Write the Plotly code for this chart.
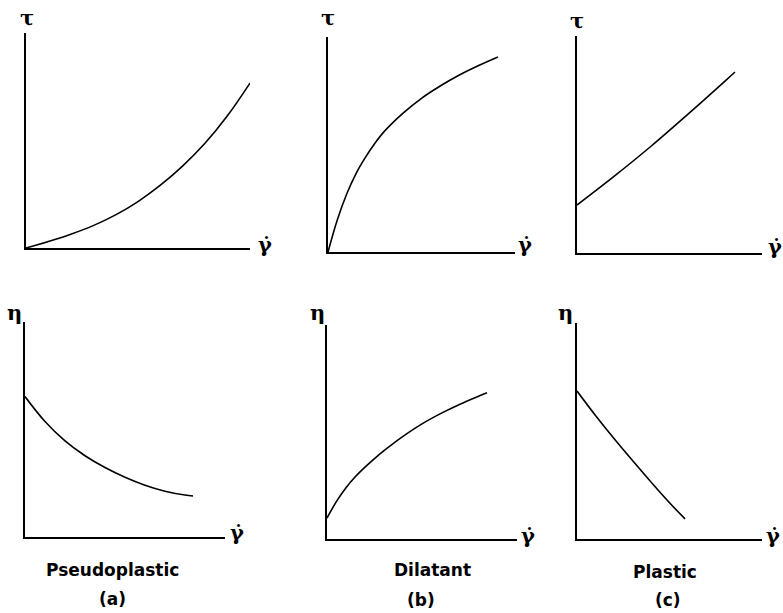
import plotly.graph_objects as go

W, H = 783, 613

# ---- data (arbitrary units, axes span 0..10) ----
tau_a_x = [0, 1, 2, 3, 4, 5, 6, 7, 8, 9, 10]
tau_a_y = [0, 0.30, 0.64, 1.04, 1.54, 2.16, 2.92, 3.82, 4.88, 6.16, 7.67]
tau_b_x = [0, 0.5, 1, 1.5, 2, 2.5, 3, 4, 5, 6, 7, 8, 9.09]
tau_b_y = [0, 1.50, 2.70, 3.65, 4.40, 5.05, 5.60, 6.45, 7.15, 7.72, 8.22, 8.65, 9.07]
tau_c_x = [0, 2, 4, 6, 8, 8.54]
tau_c_y = [2.21, 3.53, 4.92, 6.40, 7.92, 8.34]
eta_a_x = [0, 1, 2, 3, 4, 5, 6, 7, 8, 8.4]
eta_a_y = [6.53, 5.37, 4.47, 3.78, 3.23, 2.78, 2.41, 2.13, 1.95, 1.91]
eta_b_x = [0, 0.5, 1, 1.5, 2, 2.5, 3, 4, 5, 6, 7, 8, 8.42]
eta_b_y = [0.98, 1.76, 2.40, 2.92, 3.36, 3.76, 4.13, 4.80, 5.38, 5.87, 6.30, 6.68, 6.83]
eta_c_x = [0, 1, 2, 3, 4, 5, 5.84]
eta_c_y = [6.85, 5.72, 4.65, 3.63, 2.64, 1.68, 0.93]

fluid_names = ["Pseudoplastic", "Dilatant", "Plastic"]
panel_tags = ["(a)", "(b)", "(c)"]
top_label = "τ"
bottom_label = "η"
x_label = "γ̇"

# ---- layout geometry (pixels): x0, x1, y_bottom, y_top ----
geom = [
    (26, 250, 248, 33),
    (328, 515, 252, 37),
    (577, 762, 253, 36),
    (25, 225, 537, 322),
    (327, 517, 539, 325),
    (577, 762, 539, 323),
]
series = [
    (tau_a_x, tau_a_y), (tau_b_x, tau_b_y), (tau_c_x, tau_c_y),
    (eta_a_x, eta_a_y), (eta_b_x, eta_b_y), (eta_c_x, eta_c_y),
]
ylab_pos = [(27, 18), (328, 18), (577, 20), (15, 312), (317, 313), (565, 313)]
xlab_pos = [(265, 244), (525, 244), (775, 246), (237, 532), (528, 535), (773, 535)]
name_pos = [(113, 570), (432, 570), (665, 572)]
tag_pos = [(113, 599), (421, 600), (668, 600)]

def px(x):
    return x / W

def py(y):
    return 1 - y / H

GREEK = "DejaVu Serif"
fig = go.Figure()
layout = {}
annotations = []
for i, ((x0, x1, yb, yt), (sx, sy)) in enumerate(zip(geom, series)):
    n = i + 1
    xa = "x" if n == 1 else f"x{n}"
    ya = "y" if n == 1 else f"y{n}"
    fig.add_trace(go.Scatter(
        x=sx, y=sy, mode="lines",
        line=dict(color="black", width=1.6, shape="spline", smoothing=1.0),
        xaxis=xa, yaxis=ya, showlegend=False, hoverinfo="skip",
    ))
    common = dict(showgrid=False, zeroline=False, showticklabels=False, ticks="",
                  showline=True, linecolor="black", linewidth=2.2, range=[0, 10], fixedrange=True)
    layout["xaxis" if n == 1 else f"xaxis{n}"] = dict(domain=[px(x0), px(x1)], anchor=ya, **common)
    layout["yaxis" if n == 1 else f"yaxis{n}"] = dict(domain=[py(yb), py(yt)], anchor=xa, **common)
    lx, ly = ylab_pos[i]
    annotations.append(dict(text=f"<b>{top_label if i < 3 else bottom_label}</b>", x=px(lx), y=py(ly),
                            xref="paper", yref="paper", xanchor="center", yanchor="middle",
                            showarrow=False, font=dict(size=21, family=GREEK, color="black")))
    gx, gy = xlab_pos[i]
    annotations.append(dict(text=f"<b>{x_label}</b>", x=px(gx), y=py(gy),
                            xref="paper", yref="paper", xanchor="center", yanchor="middle",
                            showarrow=False, font=dict(size=21, family=GREEK, color="black")))

for name, (nx, ny) in zip(fluid_names, name_pos):
    annotations.append(dict(text=f"<b>{name}</b>", x=px(nx), y=py(ny), xref="paper", yref="paper",
                            xanchor="center", yanchor="middle",
                            showarrow=False, font=dict(size=17, family="DejaVu Sans", color="black")))
for tag, (tx, ty) in zip(panel_tags, tag_pos):
    annotations.append(dict(text=f"<b>{tag}</b>", x=px(tx), y=py(ty), xref="paper", yref="paper",
                            xanchor="center", yanchor="middle",
                            showarrow=False, font=dict(size=17, family="DejaVu Sans", color="black")))

fig.update_layout(
    width=W, height=H, margin=dict(l=0, r=0, t=0, b=0),
    paper_bgcolor="white", plot_bgcolor="white",
    annotations=annotations, **layout,
)
fig.write_html("out.html", config={"displayModeBar": False},
               post_script="document.body.style.margin='0px';")
